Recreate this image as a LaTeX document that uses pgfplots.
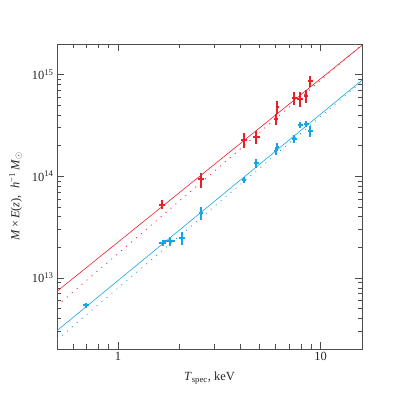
\documentclass[border=0pt]{standalone}
\usepackage{fontspec}
\setmainfont{Liberation Serif}
\usepackage{pgfplots}
\pgfplotsset{compat=1.18}

\definecolor{mred}{RGB}{232,32,42}
\definecolor{mcyan}{RGB}{22,165,228}

% T [keV], M E(z) [h^-1 Msun], relative errors in T and M
\pgfplotstableread{
T     M        ex     ey
1.65  5.27e13  0.038  0.10
2.57  9.30e13  0.029  0.17
4.17  2.27e14  0.035  0.17
4.81  2.45e14  0.040  0.146
6.00  3.63e14  0.023  0.12
6.10  4.82e14  0.017  0.146
7.42  5.85e14  0.029  0.146
7.94  5.78e14  0.035  0.17
8.48  6.15e14  0.023  0.146
8.90  8.65e14  0.029  0.12
}\redpts

\pgfplotstableread{
T      M        ex     ey
0.695  5.37e12  0.035  0.05
1.66   2.21e13  0.035  0.07
1.80   2.30e13  0.058  0.095
2.08   2.48e13  0.035  0.146
2.57   4.37e13  0.023  0.146
4.17   9.16e13  0.023  0.07
4.81   1.34e14  0.029  0.095
6.00   1.77e14  0.017  0.095
6.10   1.95e14  0.017  0.095
7.42   2.34e14  0.029  0.095
7.94   3.19e14  0.029  0.07
8.48   3.29e14  0.029  0.07
8.90   2.78e14  0.029  0.12
}\bluepts

\begin{document}
\begin{tikzpicture}
\begin{loglogaxis}[
  scale only axis,
  width=305bp, height=305bp,
  xmin=0.5, xmax=16,
  ymin=2e12, ymax=2e15,
  axis line style={black!70, line width=0.6pt},
  tick align=inside,
  tick style={black!70, line width=0.5pt},
  major tick length=7bp,
  minor tick length=4.5bp,
  xtick={1,10}, xticklabels={1,10},
  minor xtick={0.6,0.7,0.8,0.9,2,3,4,5,6,7,8,9},
  ytick={1e13,1e14,1e15},
  yticklabels={10\textsuperscript{13},10\textsuperscript{14},10\textsuperscript{15}},
  minor ytick={3e12,4e12,5e12,6e12,7e12,8e12,9e12,
               2e13,3e13,4e13,5e13,6e13,7e13,8e13,9e13,
               2e14,3e14,4e14,5e14,6e14,7e14,8e14,9e14},
  ticklabel style={font=\fontsize{12.5}{14}\selectfont, text=black!85},
  label style={font=\fontsize{12.5}{14}\selectfont, text=black!85},
  xlabel={\textit{T}\textsubscript{spec}, keV},
  ylabel={\textit{M}\,×\,\textit{E}(\textit{z}),\enspace \textit{h}\textsuperscript{−1}\,\textit{M}\textsubscript{$\odot$}},
  xlabel style={yshift=-4bp},
  ylabel style={yshift=3bp},
  clip=true,
]
% fitted relations
\addplot[mred, line width=0.6pt] coordinates {(0.5,7.38e12) (16,1.94e15)};
\addplot[mred, line width=0.8pt, dash pattern=on 1bp off 5.5bp] coordinates {(0.5,5.33e12) (16,1.96e15)};
\addplot[mcyan, line width=0.6pt] coordinates {(0.5,3.03e12) (16,8.81e14)};
\addplot[mcyan, line width=0.8pt, dash pattern=on 1bp off 5.5bp] coordinates {(0.5,2.47e12) (16,8.55e14)};
% data
\addplot[mred, only marks, mark=*, mark size=0pt,
  error bars/.cd, x dir=both, x explicit relative, y dir=both, y explicit relative,
  error mark=none, error bar style={mred, solid, line width=2pt}]
  table[x=T, y=M, x error=ex, y error=ey] {\redpts};
\addplot[mcyan, only marks, mark=*, mark size=0pt,
  error bars/.cd, x dir=both, x explicit relative, y dir=both, y explicit relative,
  error mark=none, error bar style={mcyan, solid, line width=2pt}]
  table[x=T, y=M, x error=ex, y error=ey] {\bluepts};
\end{loglogaxis}
\pgfresetboundingbox
\path[use as bounding box] (-57bp,-46bp) rectangle (340bp,349bp);
\end{tikzpicture}
\end{document}
